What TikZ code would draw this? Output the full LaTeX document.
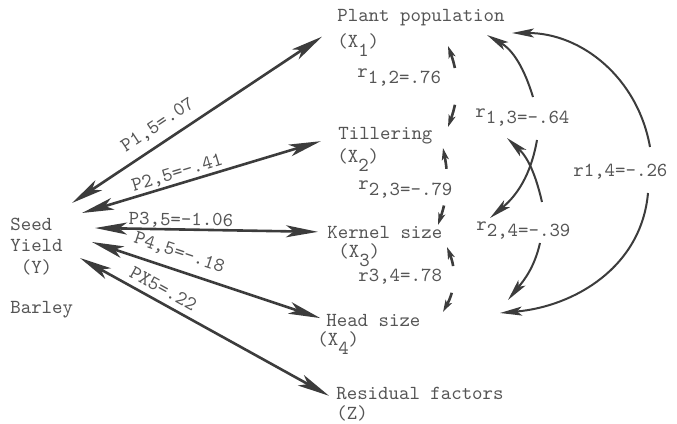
\documentclass[tikz,border=0pt]{standalone}
\usepackage{fontspec}
\usepackage{tikz}
\usetikzlibrary{arrows.meta}

\definecolor{typegray}{HTML}{555555}
\definecolor{pathgray}{HTML}{3C3C3C}

\newcommand{\lowsub}[1]{\raisebox{-4.5pt}{#1}}
\newcommand{\rsub}[1]{\raisebox{-3pt}{#1}}

\begin{document}
\begin{tikzpicture}[
    x=0.5pt, y=0.5pt,
    varnode/.style={
        anchor=west, inner sep=0pt, text=typegray,
        font=\fontsize{9.95}{10.75}\selectfont\ttfamily
    },
    coefnode/.style={
        inner sep=1pt, text=typegray,
        font=\fontsize{9.95}{10.75}\selectfont\ttfamily
    },
    parr/.style={<->, >={Stealth[length=16pt, width=6pt, inset=4pt]},
        line width=1.3pt, draw=pathgray},
    rdash/.style={<->, >={Stealth[length=6pt, width=3.5pt, inset=1.5pt]},
        line width=1.3pt, draw=pathgray},
    rarr/.style={->, >={Stealth[length=11pt, width=4.5pt, inset=2.5pt]},
        line width=1pt, draw=pathgray}
]
    \useasboundingbox (0,0) rectangle (677,424);

    % Dependent variable
    \node[varnode, align=left] (Y) at (10,177.5) {Seed\\Yield\\\hphantom{x}(Y)};
    \node[varnode] (barley) at (10,114) {Barley};

    % Components
    \node[varnode] (pop)   at (337,406) {Plant population};
    \node[varnode] (x1)    at (337,379) {(X\lowsub{1})};
    \node[varnode] (till)  at (338,288) {Tillering};
    \node[varnode] (x2)    at (337,264) {(X\lowsub{2})};
    \node[varnode] (kern)  at (327,192) {Kernel size};
    \node[varnode] (x3)    at (338,169) {(X\lowsub{3})};
    \node[varnode] (head)  at (326,104) {Head size};
    \node[varnode] (x4)    at (317,81)  {(X\lowsub{4})};
    \node[varnode] (resid) at (336,31)  {Residual factors};
    \node[varnode] (z)     at (336,11)  {(Z)};

    % Correlations
    \node[varnode] (r12) at (357,346) {r\rsub{1,2=.76}};
    \node[varnode] (r23) at (358,234) {r\rsub{2,3=-.79}};
    \node[varnode] (r34) at (358,147) {r3,4=.78};
    \node[varnode] (r13) at (475,306) {r\rsub{1,3=-.64}};
    \node[varnode] (r24) at (476,193) {r\rsub{2,4=-.39}};
    \node[varnode] (r14) at (573,252) {r1,4=-.26};

    % Path coefficients
    \coordinate (yp1) at (72,221);
    \coordinate (yp2) at (82,211);
    \coordinate (yp3) at (95,196);
    \coordinate (yp4) at (92,182);
    \coordinate (yp5) at (80,166);

    \draw[parr, shorten >=9pt] (yp1) -- node[coefnode, pos=.36, sloped, above=3pt]{P1,5=.07} (pop.south west);
    \draw[parr, shorten >=9pt] (yp2) -- node[coefnode, pos=.385, sloped, above]{P2,5=-.41} (till.west);
    \draw[parr, shorten >=4.5pt] (yp3) -- node[coefnode, pos=.37, sloped, above=-1pt]{P3,5=-1.06} (kern.west);
    \draw[parr, shorten >=3pt] (yp4) -- node[coefnode, pos=.35, sloped, above=3pt]{P4,5=-.18} (head.west);
    \draw[parr, shorten >=4pt] (yp5) -- node[coefnode, pos=.30, sloped, above=2pt]{PX5=.22} (resid.south west);

    % Neighbouring correlations (broken)
    \coordinate (c12a) at (448,378); \coordinate (c12b) at (448,297);
    \coordinate (c23a) at (443,276); \coordinate (c23b) at (438,199);
    \coordinate (c34a) at (447,177); \coordinate (c34b) at (443,112);
    \draw[rdash, dash pattern=on 7.5pt off 18.5pt] (c12a) to[bend left=20] (c12b);
    \draw[rdash, dash pattern=on 6.5pt off 18.5pt] (c23a) to[bend left=15] (c23b);
    \draw[rdash, dash pattern=on 6pt off 13.5pt] (c34a) to[bend left=25] (c34b);

    % Long correlations, split at their labels
    \coordinate (g13a) at (533,327); \coordinate (t13a) at (487,389);
    \coordinate (g13b) at (537,284); \coordinate (t13b) at (490,206);
    \coordinate (g24a) at (542,222); \coordinate (t24a) at (507,286);
    \coordinate (g24b) at (540,181); \coordinate (t24b) at (508,124);
    \coordinate (g14a) at (650,277); \coordinate (t14a) at (512,391);
    \coordinate (g14b) at (648,231); \coordinate (t14b) at (500,111);
    \draw[rarr] (g13a) to[out=107, in=-30] (t13a);
    \draw[rarr] (g13b) to[out=-100, in=40] (t13b);
    \draw[rarr] (g24a) to[out=103, in=-43] (t24a);
    \draw[rarr] (g24b) to[out=-103, in=51] (t24b);
    \draw[rarr] (g14a) to[out=100, in=0] (t14a);
    \draw[rarr] (g14b) to[out=-95, in=5] (t14b);
\end{tikzpicture}
\end{document}
